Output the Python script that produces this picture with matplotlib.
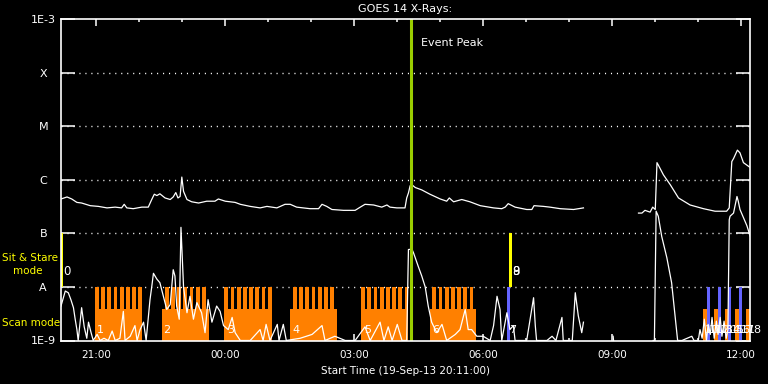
import numpy as np
import matplotlib
matplotlib.use('Agg')
import matplotlib.pyplot as plt
from matplotlib.ticker import FixedLocator, FuncFormatter, NullLocator

nan = np.nan

# times in hours from 19-Sep-13 00:00, flux in W/m^2
long_t = [20.19, 20.33, 20.44, 20.56, 20.67, 20.87, 21.06, 21.26, 21.45, 21.60, 21.66, 21.72,
          21.87, 22.07, 22.22, 22.30, 22.36, 22.42, 22.49, 22.61, 22.73, 22.80, 22.86, 22.91,
          22.96, 23.00, 23.04, 23.12, 23.23, 23.39, 23.58, 23.77, 23.85, 24.01, 24.24, 24.36,
          24.59, 24.82, 24.98, 25.21, 25.40, 25.52, 25.67, 25.98, 26.18, 26.26, 26.37, 26.49,
          26.76, 27.03, 27.15, 27.26, 27.46, 27.65, 27.77, 27.84, 28.00, 28.19, 28.23, 28.27,
          28.31, 28.35, 28.43, 28.58, 28.77, 29.01, 29.16, 29.22, 29.32, 29.51, 29.70, 29.94,
          30.25, 30.44, 30.52, 30.59, 30.75, 31.02, 31.14, 31.19, 31.41, 31.56, 31.80, 32.11,
          32.34, 32.90, 33.62, 33.70, 33.77, 33.89, 33.95, 34.01, 34.05, 34.08, 34.20, 34.36,
          34.55, 34.82, 35.13, 35.40, 35.67, 35.73, 35.79, 35.83, 35.92, 35.98, 36.06, 36.22]
long_f = [4.4e-7, 4.8e-7, 4.4e-7, 3.8e-7, 3.7e-7, 3.3e-7, 3.2e-7, 3.0e-7, 3.1e-7, 3.0e-7, 3.5e-7, 3.0e-7,
          2.9e-7, 3.1e-7, 3.1e-7, 4.3e-7, 5.4e-7, 5.1e-7, 5.5e-7, 4.6e-7, 4.3e-7, 4.8e-7, 5.8e-7, 4.6e-7,
          4.9e-7, 1.13e-6, 6.1e-7, 4.3e-7, 3.9e-7, 3.7e-7, 4.0e-7, 4.0e-7, 4.4e-7, 4.0e-7, 3.8e-7, 3.5e-7,
          3.2e-7, 3.0e-7, 3.2e-7, 3.0e-7, 3.5e-7, 3.5e-7, 3.1e-7, 2.9e-7, 2.9e-7, 3.5e-7, 3.2e-7, 2.8e-7,
          2.7e-7, 2.7e-7, 3.1e-7, 3.5e-7, 3.4e-7, 3.1e-7, 3.4e-7, 3.1e-7, 3.0e-7, 3.0e-7, 4.6e-7, 5.7e-7,
          7.8e-7, 8.1e-7, 7.2e-7, 6.5e-7, 5.4e-7, 4.4e-7, 4.0e-7, 4.6e-7, 3.9e-7, 4.3e-7, 3.9e-7, 3.3e-7,
          3.0e-7, 2.9e-7, 3.1e-7, 3.6e-7, 3.1e-7, 2.8e-7, 2.8e-7, 3.3e-7, 3.2e-7, 3.1e-7, 2.9e-7, 2.8e-7,
          3.0e-7, nan, 2.4e-7, 2.4e-7, 2.7e-7, 2.5e-7, 3.1e-7, 2.8e-7, 2.1e-6, 1.9e-6, 1.24e-6, 8.1e-7,
          4.6e-7, 3.4e-7, 2.9e-7, 2.6e-7, 2.6e-7, 3.0e-7, 2.2e-6, 2.5e-6, 3.6e-6, 3.2e-6, 2.1e-6, 1.7e-6]

short_t = [20.19, 20.29, 20.36, 20.42, 20.48, 20.52, 20.56, 20.59, 20.67, 20.73, 20.79, 20.83,
           20.89, 20.94, 21.03, 21.10, 21.19, 21.29, 21.38, 21.45, 21.56, 21.64, 21.68, 21.80,
           21.91, 21.96, 22.03, 22.11, 22.17, 22.26, 22.30, 22.34, 22.42, 22.49, 22.57, 22.65,
           22.73, 22.80, 22.84, 22.88, 22.94, 22.98, 23.04, 23.12, 23.19, 23.27, 23.35, 23.46,
           23.54, 23.61, 23.70, 23.81, 23.89, 23.97, 24.08, 24.17, 24.24, 24.36, 24.59, 24.82,
           24.89, 24.96, 25.05, 25.22, 25.26, 25.36, 25.43, 25.75, 26.03, 26.26, 26.33, 26.56,
           26.80, 27.03, 27.26, 27.38, 27.61, 27.70, 27.80, 27.89, 28.01, 28.12, 28.23, 28.27,
           28.35, 28.39, 28.50, 28.58, 28.66, 28.73, 28.81, 28.93, 29.05, 29.16, 29.36, 29.47,
           29.59, 29.66, 29.74, 29.86, 30.01, 30.17, 30.25, 30.33, 30.40, 30.44, 30.56, 30.63,
           30.71, 30.75, 31.02, 31.18, 31.22, 31.25, 31.49, 31.61, 31.70, 31.84, 31.87, 32.08,
           32.15, 32.22, 32.30, 32.34, 32.60, 33.03, 33.04, 33.50, 33.96, 33.99, 34.03, 34.08,
           34.16, 34.28, 34.39, 34.47, 34.53, 34.63, 34.86, 34.91, 35.01, 35.05, 35.10, 35.15,
           35.20, 35.24, 35.29, 35.33, 35.38, 35.43, 35.47, 35.52, 35.56, 35.61, 35.66, 35.70,
           35.73, 35.75, 35.83, 35.91, 35.94, 35.98, 36.14, 36.22]
short_f = [4.4e-9, 8.4e-9, 7.8e-9, 5.8e-9, 4.1e-9, 2.5e-9, 1.6e-9, 1.0e-9, 4.1e-9, 1.8e-9, 1.1e-9, 2.2e-9,
           1.4e-9, 1.0e-9, 1.3e-9, 1.0e-9, 1.1e-9, 1.0e-9, 1.5e-9, 1.0e-9, 1.1e-9, 3.5e-9, 1.0e-9, 1.2e-9,
           1.9e-9, 1.0e-9, 1.6e-9, 2.2e-9, 1.0e-9, 5.8e-9, 1.0e-8, 1.8e-8, 1.4e-8, 1.2e-8, 6.7e-9, 3.8e-9,
           4.7e-9, 2.1e-8, 1.6e-8, 4.4e-9, 2.5e-9, 1.3e-7, 1.0e-8, 3.3e-9, 6.7e-9, 2.5e-9, 5.1e-9, 3.3e-9,
           1.4e-9, 5.8e-9, 2.2e-9, 4.4e-9, 3.5e-9, 1.9e-9, 1.6e-9, 2.7e-9, 1.4e-9, 1.0e-9, 1.0e-9, 1.6e-9,
           1.0e-9, 2.0e-9, 1.0e-9, 2.0e-9, 1.0e-9, 2.0e-9, 1.0e-9, 1.1e-9, 1.3e-9, 1.9e-9, 1.0e-9, 1.2e-9,
           1.0e-9, 1.0e-9, 1.8e-9, 1.0e-9, 2.2e-9, 1.0e-9, 1.8e-9, 1.0e-9, 2.0e-9, 1.0e-9, 1.0e-9, 5.0e-8,
           5.1e-8, 4.3e-8, 2.4e-8, 1.6e-8, 1.0e-8, 4.4e-9, 2.2e-9, 1.4e-9, 2.0e-9, 1.0e-9, 1.3e-9, 1.6e-9,
           3.8e-9, 1.6e-9, 1.6e-9, 1.2e-9, 1.2e-9, 1.0e-9, 1.9e-9, 6.7e-9, 3.8e-9, 1.0e-9, 3.3e-9, 1.6e-9,
           1.9e-9, 1.0e-9, 1.0e-9, 6.3e-9, 1.9e-9, 1.0e-9, 1.0e-9, 1.2e-9, 1.0e-9, 2.7e-9, 1.0e-9, 1.0e-9,
           7.8e-9, 2.9e-9, 1.4e-9, 2.2e-9, nan, 1.2e-9, 1.0e-9, nan, 1.0e-9, 1.0e-9, 2.6e-7, 2.1e-7,
           8.8e-8, 3.5e-8, 1.2e-8, 2.9e-9, 1.0e-9, 1.0e-9, 1.2e-9, 1.0e-9, 1.0e-9, 1.6e-9, 1.1e-9, 2.5e-9,
           1.0e-9, 2.0e-9, 1.3e-9, 2.7e-9, 1.1e-9, 2.3e-9, 1.3e-9, 2.7e-9, 1.2e-9, 2.3e-9, 1.1e-9, 1.6e-9,
           1.8e-7, 2.1e-7, 2.4e-7, 4.9e-7, 4.0e-7, 2.8e-7, 1.4e-7, 8.8e-8]

# scan mode blocks (raster series)
scan_start = [20.98, 22.53, 24.01, 25.52, 27.19, 28.77]
scan_end = [22.08, 23.63, 25.07, 26.60, 28.25, 29.84]
scan_teeth = [8, 7, 8, 7, 8, 7]
scan_lbl = ['1', '2', '3', '4', '5', '6']

# short scans at the end of the day
short_scan_start = [35.11, 35.38, 35.63, 35.87, 36.12]
short_scan_end = [35.21, 35.47, 35.72, 35.96, 36.22]
short_scan_lbl = ['10', '12', '14', '16', '18']

# other observations (blue)
blue_start = [30.56, 35.21, 35.47, 35.71, 35.96]
blue_end = [30.63, 35.29, 35.54, 35.77, 36.03]
blue_lbl = ['7', '11', '13', '15', '17']

# sit & stare
sit_start = [20.18, 30.62, 30.62]
sit_end = [20.24, 30.68, 30.68]
sit_lbl = ['0', '8', '9']

event_t = 28.33

levels = [1e-9, 1e-8, 1e-7, 1e-6, 1e-5, 1e-4, 1e-3]
level_lbl = ['1E-9', 'A', 'B', 'C', 'M', 'X', '1E-3']
t0, t1 = 20.0 + 11 / 60, 36.22

orange = '#ff8000'
blue = '#6464ff'
yellow = '#ffff00'

fig = plt.figure(figsize=(7.68, 3.84), dpi=100, facecolor='black')
ax = fig.add_axes([60.7 / 768, 43.5 / 384, (750.3 - 60.7) / 768, (340.5 - 19.3) / 384])
ax.set_facecolor('black')
ax.set_yscale('log')
ax.set_ylim(1e-9, 1e-3)
ax.set_xlim(t0, t1)

lo = 1e-9
base_top = 3.8e-9
tooth_top = 1e-8
period = 8.65 / 60
tooth_w = 5.3 / 60

# scan blocks: low bar for the whole block plus teeth for each raster
widths = [e - s for s, e in zip(scan_start, scan_end)]
ax.bar(scan_start, base_top - lo, width=widths, bottom=lo, align='edge', color=orange, lw=0, zorder=2)
tx = []
for s, e, n in zip(scan_start, scan_end, scan_teeth):
    off = (e - s - ((n - 1) * period + tooth_w)) / 2
    tx += [s + off + k * period for k in range(n)]
ax.bar(tx, tooth_top - lo, width=tooth_w, bottom=lo, align='edge', color=orange, lw=0, zorder=2)

ax.bar(short_scan_start, base_top - lo, width=np.subtract(short_scan_end, short_scan_start),
       bottom=lo, align='edge', color=orange, lw=0, zorder=2)
ax.bar(blue_start, tooth_top - lo, width=np.subtract(blue_end, blue_start),
       bottom=lo, align='edge', color=blue, lw=0, zorder=2)
ax.bar(sit_start, 1e-7 - 1e-8, width=np.subtract(sit_end, sit_start),
       bottom=1e-8, align='edge', color=yellow, lw=0, zorder=2)

for lv in levels[1:-1]:
    ax.axhline(lv, color='white', lw=1, ls=(0, (0.8, 3.5)), zorder=1)

ax.plot(long_t, long_f, color='white', lw=0.9, zorder=3)
ax.plot(short_t, short_f, color='white', lw=0.9, zorder=3)

ax.axvline(event_t, color='#9acd00', lw=2.2, zorder=4)
ax.annotate('Event Peak', (event_t, 1e-3), xytext=(10, -24), textcoords='offset pixels',
            color='white', fontsize=8, ha='left', va='center')

# observation numbers
for s, lab in zip(scan_start + short_scan_start + blue_start, scan_lbl + short_scan_lbl + blue_lbl):
    ax.annotate(lab, (s, 1.55e-9), xytext=(2, 0), textcoords='offset pixels', color='white',
                fontsize=8, ha='left', va='center', zorder=5, annotation_clip=False)
for s, lab in zip(sit_start, sit_lbl):
    ax.annotate(lab, (s, 1.95e-8), xytext=(3, 0), textcoords='offset pixels', color='white',
                fontsize=8.5, ha='left', va='center', zorder=5, annotation_clip=False)

for sp in ax.spines.values():
    sp.set_color('white')
    sp.set_linewidth(1.2)
    sp.set_zorder(6)

ax.yaxis.set_major_locator(FixedLocator(levels))
ax.yaxis.set_minor_locator(NullLocator())
ax.set_yticklabels(level_lbl)
ax.tick_params(axis='y', which='major', direction='in', length=10, width=1.1, colors='white',
               left=True, right=True, pad=12.6, labelsize=8)
for lab in ax.get_yticklabels():
    lab.set_horizontalalignment('center')

ax.xaxis.set_major_locator(FixedLocator([21, 24, 27, 30, 33, 36]))
ax.xaxis.set_minor_locator(FixedLocator([22, 23, 25, 26, 28, 29, 31, 32, 34, 35]))
ax.xaxis.set_major_formatter(FuncFormatter(lambda v, p: '%02d:00' % (int(round(v)) % 24)))
ax.tick_params(axis='x', which='major', direction='in', length=5, width=1.1, colors='white',
               top=True, bottom=True, pad=6.5, labelsize=7.5)
ax.tick_params(axis='x', which='minor', direction='in', length=2.5, width=1.1, colors='white',
               top=True, bottom=True)

ax.set_title('GOES 14 X-Rays:', color='white', fontsize=8, pad=5)
ax.set_xlabel('Start Time (19-Sep-13 20:11:00)', color='white', fontsize=7.5, labelpad=5)


def ftext(x, y, s):
    fig.text(x / 768, 1 - y / 384, s, color=yellow, fontsize=7.5, ha='left', va='center')


ftext(2, 258, 'Sit & Stare')
ftext(13, 271, 'mode')
ftext(2, 323, 'Scan mode')

fig.savefig('out.png', dpi=100, facecolor='black')
